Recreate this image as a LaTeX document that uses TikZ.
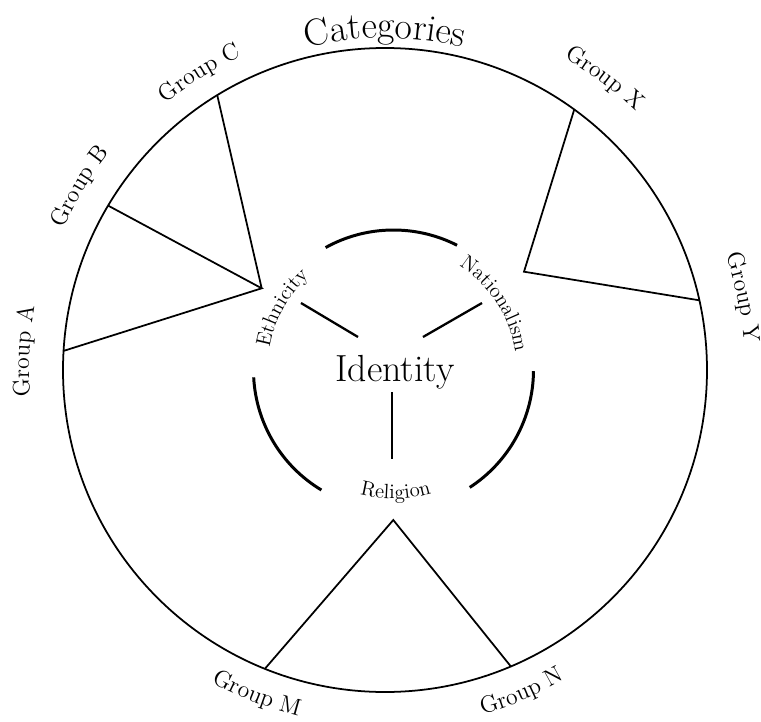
\documentclass[tikz,border=0pt]{standalone}
\usetikzlibrary{decorations.text}
\newcommand\glab{\fontsize{13.5}{16}\selectfont}
\newcommand\ilab{\fontsize{11.8}{14}\selectfont}
\newcommand\blab{\fontsize{21.5}{26}\selectfont}
\tikzset{
  outerline/.style={line width=1pt},
  innerarc/.style={line width=1.7pt},
  spokeline/.style={line width=1.3pt},
  curvetext/.style={decorate, decoration={text along path, text align=center, text={#1}}},
}
\begin{document}
\begin{tikzpicture}[x=0.02cm,y=0.02cm]
\useasboundingbox (-385,-351) rectangle (376,370);
\coordinate (O) at (0,0);
\coordinate (I) at (8.5,0);
% outer circle
\draw[outerline] (O) circle[radius=322];
% points on the outer circle
\coordinate (gA) at (176.6:322);
\coordinate (gB) at (149.3:322);
\coordinate (gC) at (121.4:322);
\coordinate (gX) at (54:322);
\coordinate (gY) at (12.5:322);
\coordinate (gM) at (248.1:322);
\coordinate (gN) at (293:322);
% hubs
\coordinate (hE) at (-123.3,81.7);
\coordinate (hN) at (139,98.3);
\coordinate (hR) at (8.3,-150);
\draw[outerline] (gA) -- (hE) -- (gB) (hE) -- (gC);
\draw[outerline] (gX) -- (hN) -- (gY);
\draw[outerline] (gM) -- (hR) -- (gN);
% inner arcs
\draw[innerarc, shift={(I)}] (63:140) arc[start angle=63, end angle=119, radius=140];
\draw[innerarc, shift={(I)}] (183:140) arc[start angle=183, end angle=239, radius=140];
\draw[innerarc, shift={(I)}] (303:140) arc[start angle=303, end angle=359.5, radius=140];
% centre
\node (identity) at (10,-2) {\blab Identity};
\coordinate (e1) at (-27,33);
\coordinate (e2) at (-84,67);
\coordinate (n1) at (38,33);
\coordinate (n2) at (97,67);
\coordinate (r1) at (7,-22);
\coordinate (r2) at (7,-89);
\draw[spokeline] (e1) -- (e2);
\draw[spokeline] (n1) -- (n2);
\draw[spokeline] (r1) -- (r2);
% inner labels
\path[curvetext={|\ilab|Ethnicity}, shift={(I)}] (181:126) arc[start angle=181, end angle=121, radius=126];
\path[curvetext={|\ilab|Nationalism}, shift={(I)}] (63:123) arc[start angle=63, end angle=3, radius=123];
\path[curvetext={|\ilab|Religion}, shift={(I)}] (241:129) arc[start angle=241, end angle=301, radius=129];
% outer labels
\path[curvetext={|\blab|Categories}] (120:332) arc[start angle=120, end angle=60, radius=332];
\path[curvetext={|\glab|Group A}] (197:356) arc[start angle=197, end angle=157, radius=356];
\path[curvetext={|\glab|Group B}] (169:351) arc[start angle=169, end angle=129, radius=351];
\path[curvetext={|\glab|Group C}] (142:345) arc[start angle=142, end angle=102, radius=345];
\path[curvetext={|\glab|Group X}] (73:360) arc[start angle=73, end angle=33, radius=360];
\path[curvetext={|\glab|Group Y}] (31.5:360) arc[start angle=31.5, end angle=-8.5, radius=360];
\path[curvetext={|\glab|Group M}] (228.5:357) arc[start angle=228.5, end angle=268.5, radius=357];
\path[curvetext={|\glab|Group N}] (273:358) arc[start angle=273, end angle=313, radius=358];
\end{tikzpicture}
\end{document}
